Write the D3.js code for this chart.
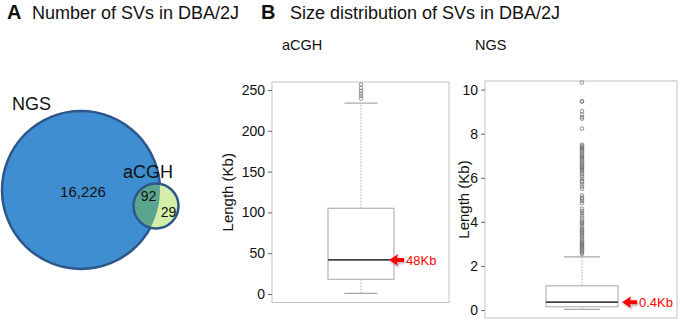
<!DOCTYPE html>
<html>
<head>
<meta charset="utf-8">
<script src="https://cdn.jsdelivr.net/npm/d3@7"></script>
<style>
body { margin: 0; background: #fff; }
svg text { font-family: "Liberation Sans", Arial, sans-serif; fill: #111; }
</style>
</head>
<body>
<svg id="chart" width="680" height="321"></svg>
<script>
// Venn counts
const vennNames = ["NGS", "aCGH"];
const ngsOnly = 16226, sharedCount = 92, acghOnly = 29;

// box summaries: [lower whisker, q1, median, q3, upper whisker] in Kb
const acghStats = [0.9, 18, 41.8, 105, 234];
const ngsStats = [0.03, 0.15, 0.36, 1.1, 2.41];
const acghOutliers = [239.6, 242.8, 245.7, 248.9, 252.6, 256.7];
const ngsOutliers = [10.32, 9.48, 9.45, 9.02, 8.87, 8.75, 8.68, 8.23,
    7.5, 7.45, 7.4, 7.35, 7.3, 7.25, 7.2, 7.1, 7.05, 7.0, 6.95, 6.9, 6.85, 6.8,
    6.7, 6.65, 6.6, 6.55, 6.5, 6.45, 6.4, 6.35, 6.3, 6.2, 6.15, 6.05, 5.95, 5.85,
    5.8, 5.7, 5.6, 5.5, 5.2, 5.1, 5.05, 4.95, 4.85, 4.6, 4.5, 4.4, 4.3, 4.2, 4.1,
    4.0, 3.95, 3.9, 3.8, 3.7, 3.65, 3.6, 3.55, 3.5, 3.4, 3.35, 3.3, 3.2, 3.15,
    3.1, 3.05, 3.0, 2.95, 2.9, 2.85, 2.8, 2.75, 2.7, 2.65, 2.6, 2.55];
const acghTicks = [0, 50, 100, 150, 200, 250];
const ngsTicks = [0, 2, 4, 6, 8, 10];
const medianLabels = ["48Kb", "0.4Kb"];

const svg = d3.select("#chart");

// Drop shadow for red arrows
svg.append("defs").append("filter")
    .attr("id", "shadow")
    .attr("x", "-50%").attr("y", "-50%")
    .attr("width", "200%").attr("height", "200%")
    .append("feDropShadow")
    .attr("dx", 1).attr("dy", 1.5)
    .attr("stdDeviation", 1)
    .attr("flood-color", "#777")
    .attr("flood-opacity", 0.6);

//Panel titles
svg.append("text").attr("x", 7).attr("y", 19)
    .style("font-size", "20px").style("font-weight", "bold").text("A");
svg.append("text").attr("x", 32).attr("y", 19)
    .style("font-size", "18px").text("Number of SVs in DBA/2J");
svg.append("text").attr("x", 261).attr("y", 19)
    .style("font-size", "20px").style("font-weight", "bold").text("B");
svg.append("text").attr("x", 290).attr("y", 19)
    .style("font-size", "18px").text("Size distribution of SVs in DBA/2J");

// ---------- Venn ----------
const ngsTotal = ngsOnly + sharedCount;
const acghTotal = acghOnly + sharedCount;
const radius = d3.scalePow().exponent(0.256)
    .domain([0, ngsTotal])
    .range([0, 79]);

const bigC = {x: 81, y: 190, r: radius(ngsTotal)};
const smallC = {x: 156, y: 206, r: radius(acghTotal)};

const venn = svg.append("g").attr("class", "venn");
venn.append("clipPath").attr("id", "ngs-clip")
    .append("circle")
    .attr("cx", bigC.x).attr("cy", bigC.y).attr("r", bigC.r);

venn.append("circle")
    .attr("cx", bigC.x).attr("cy", bigC.y).attr("r", bigC.r)
    .attr("fill", "#3f8ed1")
    .attr("stroke", "#2c578b")
    .attr("stroke-width", 2.5);
venn.append("circle")
    .attr("cx", smallC.x).attr("cy", smallC.y).attr("r", smallC.r)
    .attr("fill", "#d5eeab");
venn.append("circle")
    .attr("cx", smallC.x).attr("cy", smallC.y).attr("r", smallC.r)
    .attr("clip-path", "url(#ngs-clip)")
    .attr("fill", "#5ba58f");
venn.append("circle")
    .attr("cx", smallC.x).attr("cy", smallC.y).attr("r", smallC.r)
    .attr("fill", "none")
    .attr("stroke", "#2c578b")
    .attr("stroke-width", 2.5);

venn.append("text").attr("x", 12).attr("y", 110)
    .style("font-size", "18px").text(vennNames[0]);
venn.append("text").attr("x", 123).attr("y", 178)
    .style("font-size", "18px").text(vennNames[1]);
venn.append("text").attr("x", 83).attr("y", 197)
    .attr("text-anchor", "middle").style("font-size", "15px")
    .text(d3.format(",")(ngsOnly));
venn.append("text").attr("x", 148.5).attr("y", 200.5)
    .attr("text-anchor", "middle").style("font-size", "14px")
    .text(sharedCount);
venn.append("text").attr("x", 168.5).attr("y", 216.5)
    .attr("text-anchor", "middle").style("font-size", "14px")
    .text(acghOnly);

// ---------- Box plots ----------
const panels = [
    {name: "aCGH", stats: acghStats, outliers: acghOutliers, ticks: acghTicks,
        label: medianLabels[0], left: 272, right: 449, top: 82, bottom: 302.5,
        domain: [-10.4, 259.8], cx: 361, boxW: 66, capW: 33, arrowX: 389,
        titleX: 282, axisLabelX: 233},
    {name: "NGS", stats: ngsStats, outliers: ngsOutliers, ticks: ngsTicks,
        label: medianLabels[1], left: 485, right: 677, top: 81, bottom: 318,
        domain: [-0.36, 10.39], cx: 582, boxW: 72, capW: 36, arrowX: 622,
        titleX: 475, axisLabelX: 469}
];

panels.forEach(function (p) {
    const g = svg.append("g").attr("class", "box-panel");
    const y = d3.scaleLinear().domain(p.domain).range([p.bottom, p.top]);
    const [lo, q1, med, q3, hi] = p.stats;

    g.append("text").attr("x", p.titleX).attr("y", 50)
        .style("font-size", "14.5px").text(p.name);

    //Frame
    g.append("rect")
        .attr("x", p.left).attr("y", p.top)
        .attr("width", p.right - p.left).attr("height", p.bottom - p.top)
        .attr("fill", "none")
        .attr("stroke", "#c2c2c2");

    //Axis
    const axis = g.append("g")
        .attr("transform", "translate(" + p.left + ",0)")
        .call(d3.axisLeft(y).tickValues(p.ticks).tickSize(4).tickPadding(3));
    axis.select(".domain").remove();
    axis.selectAll(".tick line").attr("stroke", "#666");
    axis.selectAll(".tick text")
        .style("font-size", "14px")
        .style("font-family", "'Liberation Sans', Arial, sans-serif")
        .attr("fill", "#111");

    g.append("text")
        .attr("transform", "translate(" + p.axisLabelX + "," + (p.top + p.bottom) / 2 + ") rotate(-90)")
        .attr("text-anchor", "middle")
        .style("font-size", "15px")
        .text("Length (Kb)");

    //Whiskers
    g.selectAll(".whisker")
        .data([[q3, hi], [lo, q1]])
        .enter().append("line")
        .attr("class", "whisker")
        .attr("x1", p.cx).attr("x2", p.cx)
        .attr("y1", d => y(d[0])).attr("y2", d => y(d[1]))
        .attr("stroke", "#aaa")
        .attr("stroke-dasharray", "1.5,1.5");
    g.selectAll(".cap")
        .data([lo, hi])
        .enter().append("line")
        .attr("class", "cap")
        .attr("x1", p.cx - p.capW / 2).attr("x2", p.cx + p.capW / 2)
        .attr("y1", d => y(d)).attr("y2", d => y(d))
        .attr("stroke", "#a8a8a8")
        .attr("stroke-width", 1.2);

    //Box
    g.append("rect")
        .attr("x", p.cx - p.boxW / 2).attr("y", y(q3))
        .attr("width", p.boxW).attr("height", y(q1) - y(q3))
        .attr("fill", "#fff")
        .attr("stroke", "#b5b5b5")
        .attr("stroke-width", 1.2);
    g.append("line")
        .attr("x1", p.cx - p.boxW / 2).attr("x2", p.cx + p.boxW / 2)
        .attr("y1", y(med)).attr("y2", y(med))
        .attr("stroke", "#444")
        .attr("stroke-width", 1.6);

    //Outliers
    g.selectAll(".outlier")
        .data(p.outliers)
        .enter().append("circle")
        .attr("class", "outlier")
        .attr("cx", p.cx).attr("cy", d => y(d))
        .attr("r", 1.8)
        .attr("fill", "none")
        .attr("stroke", "#777")
        .attr("stroke-width", 0.8);

    //Median arrow
    g.append("path")
        .attr("transform", "translate(" + p.arrowX + "," + y(med) + ")")
        .attr("d", "M0,0 L9,-6 L8,-2 L15,-2 L15,2 L8,2 L9,6 Z")
        .attr("fill", "#ff0000")
        .attr("filter", "url(#shadow)");
    g.append("text")
        .attr("x", p.arrowX + 17).attr("y", y(med) + 5)
        .style("font-size", "13px")
        .style("fill", "#ff0000")
        .text(p.label);
});
</script>
</body>
</html>
